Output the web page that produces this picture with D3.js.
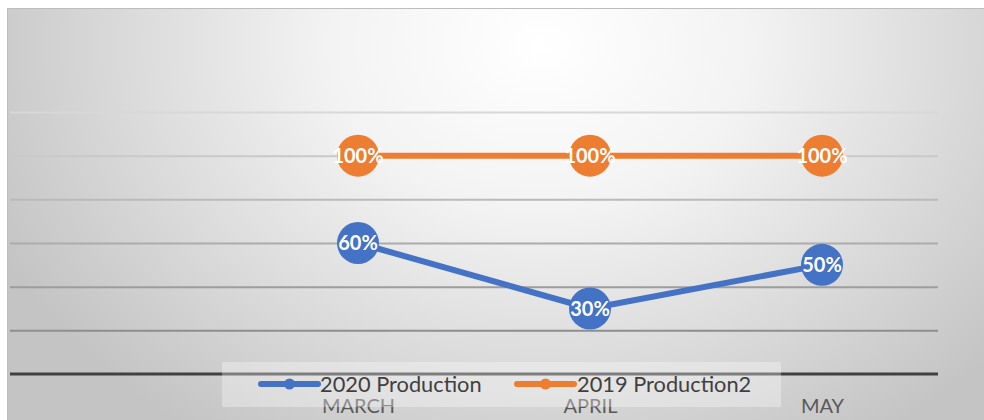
<!DOCTYPE html>
<html>
<head>
<meta charset="utf-8">
<script src="https://cdn.jsdelivr.net/npm/d3@7"></script>
<style>
  html, body { margin: 0; padding: 0; background: #ffffff; }
  svg { display: block; }
</style>
</head>
<body>
<svg id="chart" width="984" height="420"></svg>
<script>
// Months on the category axis (the first slot is left empty)
const categories = ["", "MARCH", "APRIL", "MAY"];
// Production as a share of the reference level
const months = ["MARCH", "APRIL", "MAY"];
const production2020 = [0.60, 0.30, 0.50];
const production2019 = [1.00, 1.00, 1.00];
const seriesNames = ["2020 Production", "2019 Production2"];
const seriesColors = ["#4472C4", "#ED7D31"];
const yTicks = [0, 0.2, 0.4, 0.6, 0.8, 1.0, 1.2];

const W = 984, H = 420;
const svg = d3.select("#chart");
const defs = svg.append("defs");

// Soft radial background, bright near the top centre
const bg = defs.append("radialGradient")
  .attr("id", "bgGrad")
  .attr("gradientUnits", "userSpaceOnUse")
  .attr("cx", 0).attr("cy", 0).attr("r", 1)
  .attr("gradientTransform", "translate(540,45) scale(600,470)");
bg.append("stop").attr("offset", "0%").attr("stop-color", "#ffffff");
bg.append("stop").attr("offset", "35%").attr("stop-color", "#f3f3f3");
bg.append("stop").attr("offset", "100%").attr("stop-color", "#c4c4c4");

const frame = { x: 7, y: 8 };
svg.append("rect")
  .attr("x", frame.x).attr("y", frame.y)
  .attr("width", W - frame.x).attr("height", H - frame.y)
  .attr("fill", "url(#bgGrad)");
svg.append("path")
  .attr("d", `M${frame.x + 0.5},${H} V${frame.y + 0.5} H${W}`)
  .attr("fill", "none").attr("stroke", "#bdbdbd").attr("stroke-width", 1);

const plot = { left: 10, right: 938, top: 112, bottom: 374 };

const x = d3.scalePoint()
  .domain(categories)
  .range([plot.left, plot.right])
  .padding(0.5);

const y = d3.scaleLinear()
  .domain([0, 1.2])
  .range([plot.bottom, plot.top]);

// Horizontal gridlines, fading towards the top
const gridShade = d3.scaleLinear()
  .domain([1.2, 0.2])
  .range(["#d8d8d8", "#8e8e8e"]);

const gridAxis = d3.axisLeft(y)
  .tickValues(yTicks.filter(v => v > 0))
  .tickSize(-(plot.right - plot.left))
  .tickFormat("");
const gridG = svg.append("g")
  .attr("transform", `translate(${plot.left},0)`)
  .call(gridAxis);
gridG.select(".domain").remove();
gridG.selectAll(".tick line")
  .attr("stroke", d => gridShade(d))
  .attr("stroke-width", 2);

// Category axis
const xAxis = d3.axisBottom(x).tickSize(0).tickPadding(0);
const xAxisG = svg.append("g")
  .attr("transform", `translate(0,${y(0)})`)
  .call(xAxis);
xAxisG.select(".domain")
  .attr("d", `M${plot.left},0H${plot.right}`)
  .attr("stroke", "#404040").attr("stroke-width", 3);
xAxisG.selectAll(".tick text")
  .attr("y", 39)
  .attr("dy", 0)
  .attr("fill", "#595959")
  .style("font-family", "Lato, 'Open Sans', sans-serif")
  .style("font-size", "20px");

// Series lines, markers and value labels
const series = [production2020, production2019];
const line = d3.line()
  .x((d, i) => x(months[i]))
  .y(d => y(d));

series.forEach((vals, s) => {
  const g = svg.append("g");
  g.append("path")
    .datum(vals)
    .attr("d", line)
    .attr("fill", "none")
    .attr("stroke", seriesColors[s])
    .attr("stroke-width", 6)
    .attr("stroke-linejoin", "round");
  g.selectAll("circle")
    .data(vals)
    .join("circle")
    .attr("cx", (d, i) => x(months[i]))
    .attr("cy", d => y(d))
    .attr("r", 21)
    .attr("fill", seriesColors[s]);
  g.selectAll("text")
    .data(vals)
    .join("text")
    .attr("x", (d, i) => x(months[i]))
    .attr("y", d => y(d) + 7)
    .attr("text-anchor", "middle")
    .attr("fill", "#ffffff")
    .style("font-family", "Lato, 'Open Sans', sans-serif")
    .style("font-weight", "700")
    .style("font-size", "20px")
    .text(d => d3.format(".0%")(d));
});

// Legend on a translucent panel over the axis
const legend = svg.append("g");
legend.append("rect")
  .attr("x", 222).attr("y", 362)
  .attr("width", 559).attr("height", 45)
  .attr("fill", "#ffffff").attr("fill-opacity", 0.32);

const legendItems = [
  { x0: 261, x1: 318, tx: 320 },
  { x0: 517, x1: 574, tx: 577 }
];
legendItems.forEach((it, s) => {
  const ly = 384;
  legend.append("line")
    .attr("x1", it.x0).attr("x2", it.x1)
    .attr("y1", ly).attr("y2", ly)
    .attr("stroke", seriesColors[s])
    .attr("stroke-width", 6)
    .attr("stroke-linecap", "round");
  legend.append("circle")
    .attr("cx", (it.x0 + it.x1) / 2).attr("cy", ly)
    .attr("r", 5.5)
    .attr("fill", seriesColors[s]);
  legend.append("text")
    .attr("x", it.tx).attr("y", 392)
    .attr("fill", "#404040")
    .style("font-family", "Lato, 'Open Sans', sans-serif")
    .style("font-size", "21.8px")
    .text(seriesNames[s]);
});
</script>
</body>
</html>
